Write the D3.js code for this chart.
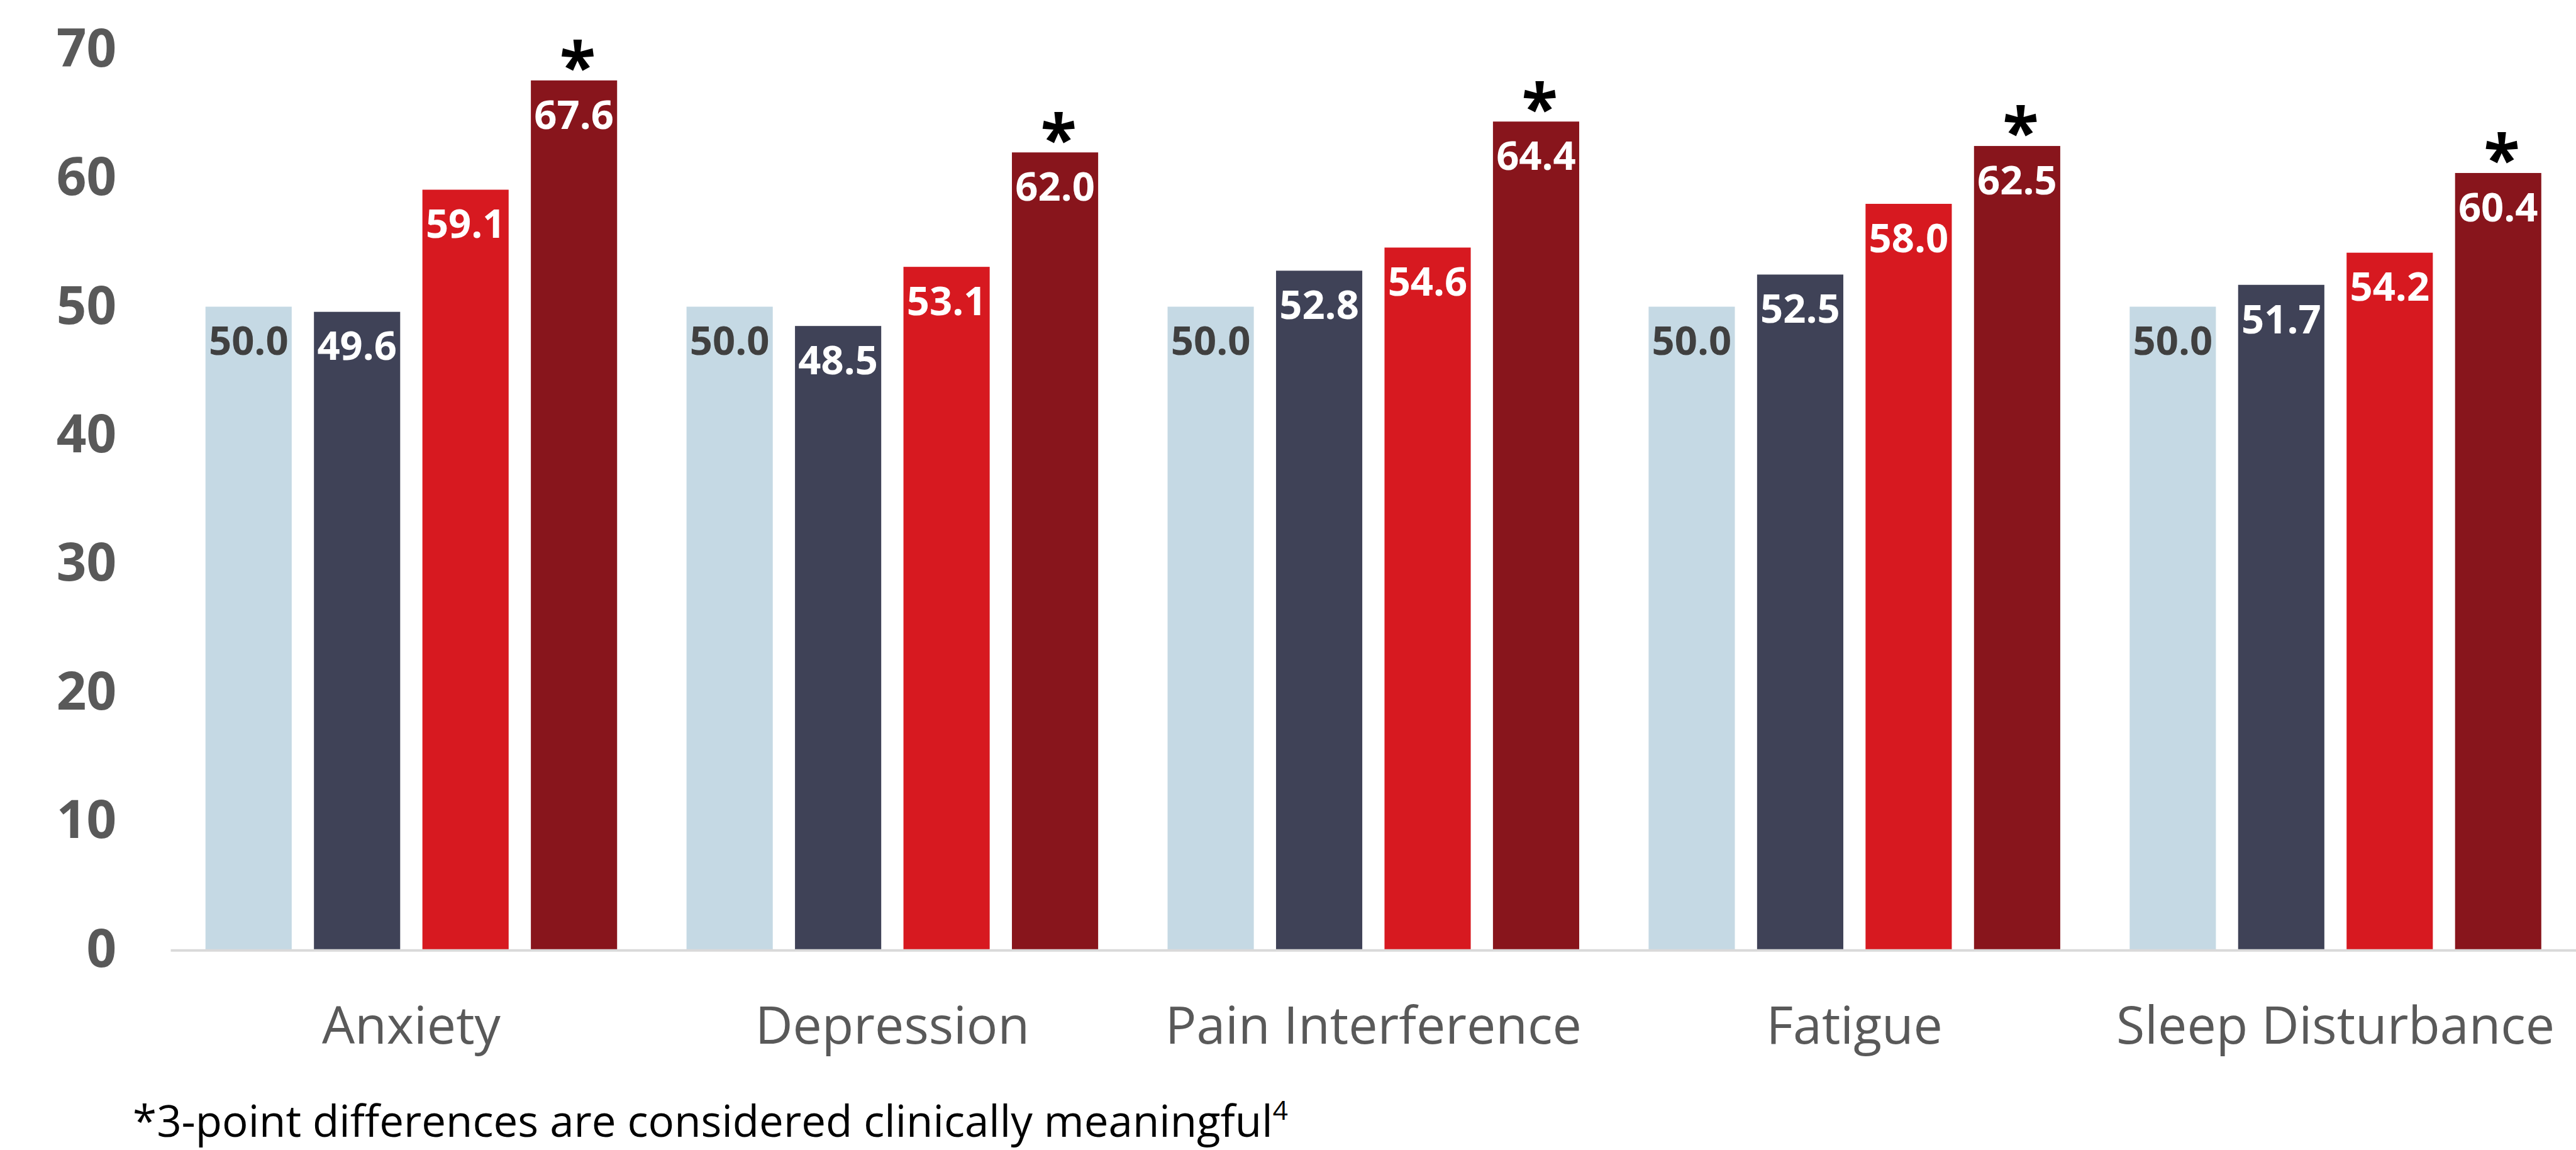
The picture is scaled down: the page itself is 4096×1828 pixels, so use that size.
<!DOCTYPE html>
<html>
<head>
<meta charset="utf-8">
<script src="https://cdn.jsdelivr.net/npm/d3@7"></script>
<style>
  html, body { margin: 0; padding: 0; background: #ffffff; }
  svg { display: block; }
  text { font-family: "Open Sans", "Noto Sans", sans-serif; }
</style>
</head>
<body>
<script>
// PROMIS T-scores by domain, four cohorts per domain
const categories = ["Anxiety", "Depression", "Pain Interference", "Fatigue", "Sleep Disturbance"];
const seriesKeys = ["normative", "cohortA", "cohortB", "cohortC"];
const normative = [50.0, 50.0, 50.0, 50.0, 50.0];
const cohortA   = [49.6, 48.5, 52.8, 52.5, 51.7];
const cohortB   = [59.1, 53.1, 54.6, 58.0, 54.2];
const cohortC   = [67.6, 62.0, 64.4, 62.5, 60.4];
const meaningful = [true, true, true, true, true]; // flagged on cohortC
const yTicks = [0, 10, 20, 30, 40, 50, 60, 70];
const footnote = "*3-point differences are considered clinically meaningful";
const footnoteRef = "4";

const seriesValues = { normative, cohortA, cohortB, cohortC };
const colors = { normative: "#C5D9E4", cohortA: "#3F4257", cohortB: "#D71920", cohortC: "#88151C" };
const labelColors = { normative: "#404040", cohortA: "#FFFFFF", cohortB: "#FFFFFF", cohortC: "#FFFFFF" };

// Laid out in a 4269 x 1905 coordinate space and scaled to the window
const W = 4269, H = 1905;
const svg = d3.select("body").append("svg")
  .attr("width", 4096).attr("height", 1828)
  .attr("viewBox", `0 0 ${W} ${H}`);

const plotLeft = 283, plotRight = 4269;
const y = d3.scaleLinear().domain([0, 70]).range([1573, 82]);
const x0 = d3.scaleBand().domain(categories).range([plotLeft, plotRight]).padding(0);
const x1 = d3.scaleBand().domain(seriesKeys).range([0, x0.bandwidth()])
  .paddingInner(0.205).paddingOuter(0.32);

// y axis labels only
const yAxis = d3.axisLeft(y).tickValues(yTicks).tickSize(0).tickPadding(90)
  .tickFormat(d3.format("d"));
const gy = svg.append("g").attr("transform", `translate(${plotLeft},0)`).call(yAxis);
gy.select(".domain").remove();
gy.selectAll("text")
  .attr("font-family", "'Open Sans', sans-serif")
  .attr("font-size", 87).attr("font-weight", 700).attr("fill", "#595959");

// bars
const groups = svg.append("g").selectAll("g").data(categories).join("g")
  .attr("transform", d => `translate(${x0(d)},0)`);

const cells = groups.selectAll("g").data((c, i) => seriesKeys.map(k => ({ key: k, cat: c, i, v: seriesValues[k][i] })))
  .join("g");

cells.append("rect")
  .attr("x", d => x1(d.key))
  .attr("width", x1.bandwidth())
  .attr("y", d => y(d.v))
  .attr("height", d => y(0) - y(d.v))
  .attr("fill", d => colors[d.key]);

cells.append("text")
  .attr("x", d => x1(d.key) + x1.bandwidth() / 2)
  .attr("y", d => y(d.v) + 80)
  .attr("text-anchor", "middle")
  .attr("font-size", 66).attr("font-weight", 700)
  .attr("fill", d => labelColors[d.key])
  .text(d => d.v.toFixed(1));

// significance markers
cells.filter(d => d.key === "cohortC" && meaningful[d.i])
  .append("text")
  .attr("x", d => x1(d.key) + x1.bandwidth() / 2 + 6)
  .attr("y", d => y(d.v) + 17)
  .attr("text-anchor", "middle")
  .attr("font-size", 110).attr("font-weight", 700).attr("fill", "#000000")
  .text("*");

// baseline
svg.append("line")
  .attr("x1", plotLeft).attr("x2", plotRight)
  .attr("y1", y(0) + 1.5).attr("y2", y(0) + 1.5)
  .attr("stroke", "#D9D9D9").attr("stroke-width", 4);

// category labels
const xAxis = d3.axisBottom(x0).tickSize(0).tickPadding(0);
const gx = svg.append("g").attr("transform", `translate(0,1729)`).call(xAxis);
gx.select(".domain").remove();
gx.selectAll("text")
  .attr("dy", 0).attr("y", 0)
  .attr("font-family", "'Open Sans', sans-serif")
  .attr("font-size", 86).attr("font-weight", 400).attr("fill", "#595959");

// footnote
const fn = svg.append("text")
  .attr("x", 220).attr("y", 1883)
  .attr("font-size", 72).attr("font-weight", 400).attr("fill", "#000000");
fn.append("tspan").text(footnote);
fn.append("tspan").attr("font-size", 44).attr("dy", -28).text(footnoteRef);
</script>
</body>
</html>
